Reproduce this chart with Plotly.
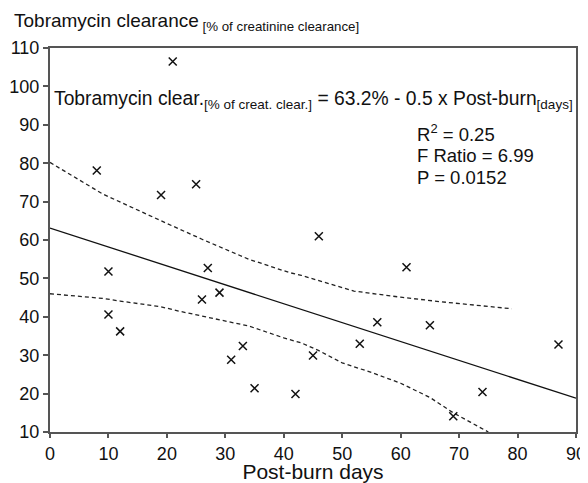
import plotly.graph_objects as go

# Observed data (post-burn day, tobramycin clearance % of creatinine clearance)
days = [8, 10, 10, 12, 19, 21, 25, 26, 27, 29, 31, 33, 35, 42, 45, 46, 53, 56, 61, 65, 69, 74, 87]
clearance = [78.1, 51.8, 40.6, 36.2, 71.7, 106.5, 74.5, 44.5, 52.7, 46.3, 28.8, 32.4, 21.4, 19.9,
             29.9, 61.0, 33.0, 38.6, 52.9, 37.8, 14.1, 20.4, 32.8]

# Regression line end points
fit_x = [0, 90]
fit_y = [63.1, 18.8]

# Confidence band curves
upper_x = [0, 9, 19, 26, 34, 41, 43, 52, 60, 67, 79]
upper_y = [80.2, 72.0, 65.0, 60.2, 55.0, 51.5, 50.8, 46.7, 45.1, 43.9, 42.1]
lower_x = [0, 9, 12, 19, 22, 26, 34, 40, 43, 46, 50, 55, 60, 65, 69, 72, 75]
lower_y = [46.0, 44.8, 44.1, 42.6, 41.5, 40.2, 37.6, 34.5, 33.2, 31.2, 28.0, 25.5, 22.7, 19.0, 15.0, 12.5, 10.0]

x_ticks = [0, 10, 20, 30, 40, 50, 60, 70, 80, 90]
y_ticks = [10, 20, 30, 40, 50, 60, 70, 80, 90, 100, 110]

stats_lines = ["R<sup>2</sup> = 0.25", "F Ratio = 6.99", "P = 0.0152"]
stats_y = [87.8, 82.1, 76.3]

FONT = "Arial, Liberation Sans, sans-serif"

fig = go.Figure()
fig.add_trace(go.Scatter(x=upper_x, y=upper_y, mode="lines",
                         line=dict(color="#222", width=1.3, dash="4px,3px"), hoverinfo="skip"))
fig.add_trace(go.Scatter(x=lower_x, y=lower_y, mode="lines",
                         line=dict(color="#222", width=1.3, dash="4px,3px"), hoverinfo="skip"))
fig.add_trace(go.Scatter(x=fit_x, y=fit_y, mode="lines",
                         line=dict(color="#111", width=1.3)))
fig.add_trace(go.Scatter(x=days, y=clearance, mode="markers",
                         marker=dict(symbol="x-thin", size=8, line=dict(color="#111", width=1.5))))

fig.update_layout(
    width=580, height=475,
    margin=dict(l=42, r=12, t=40, b=51),
    paper_bgcolor="white", plot_bgcolor="white",
    showlegend=False,
    font=dict(family=FONT, size=18, color="#111"),
    xaxis=dict(range=[0, 90], tickvals=x_ticks, showgrid=False, zeroline=False, automargin=False,
               showline=True, linecolor="#555", linewidth=2, mirror=True,
               ticks="outside", ticklen=4, tickcolor="#555", tickwidth=1.5,
               tickfont=dict(size=18), title=dict(text="Post-burn days", font=dict(size=21), standoff=4)),
    yaxis=dict(range=[10, 110], tickvals=y_ticks, showgrid=False, zeroline=False, automargin=False,
               showline=True, linecolor="#555", linewidth=2, mirror=True,
               ticks="outside", ticklen=5, tickcolor="#555", tickwidth=1.5,
               tickfont=dict(size=18)),
)

fig.add_annotation(xref="paper", yref="paper", x=-0.072, y=1.032, xanchor="left", yanchor="bottom",
                   text="Tobramycin clearance<sub> [% of creatinine clearance]</sub>",
                   showarrow=False, font=dict(size=19, family=FONT, color="#111"))
fig.add_annotation(xref="x", yref="y", x=0.4, y=96.5, xanchor="left", yanchor="middle",
                   text="Tobramycin clear.<sub>[% of creat. clear.]</sub> = 63.2% - 0.5 x Post-burn<sub>[days]</sub>",
                   showarrow=False, font=dict(size=19.3, family=FONT, color="#111"))
for txt, yv in zip(stats_lines, stats_y):
    fig.add_annotation(xref="x", yref="y", x=62.5, y=yv, xanchor="left", yanchor="middle", align="left",
                       text=txt, showarrow=False, font=dict(size=18.5, family=FONT, color="#111"))

fig.write_html("out.html")
